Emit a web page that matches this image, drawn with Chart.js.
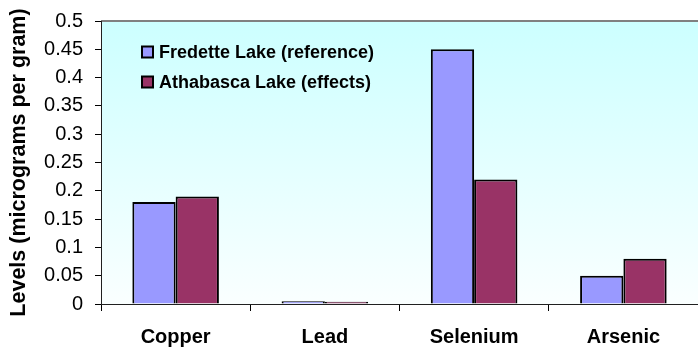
<!DOCTYPE html>
<html>
<head>
<meta charset="utf-8">
<script src="https://cdn.jsdelivr.net/npm/chart.js@4/dist/chart.umd.min.js"></script>
<style>
  html, body { margin: 0; padding: 0; background: #ffffff; }
  #wrap { width: 698px; height: 347px; }
</style>
</head>
<body>
<div id="wrap"><canvas id="c" width="698" height="347"></canvas></div>
<script>
// Metal levels in fish tissue, two lakes
const categories = ['Copper', 'Lead', 'Selenium', 'Arsenic'];
const fredetteLake = [0.18, 0.005, 0.45, 0.05];
const athabascaLake = [0.19, 0.004, 0.22, 0.08];
const seriesNames = ['Fredette Lake (reference)', 'Athabasca Lake (effects)'];
const seriesColors = ['#9999FF', '#993366'];

const FONT = '"Liberation Sans", Arial, sans-serif';

// Plot background: pale cyan fading to white toward the baseline
const plotBackground = {
  id: 'plotBackground',
  beforeDraw(chart) {
    const { ctx, chartArea: a } = chart;
    const g = ctx.createLinearGradient(0, a.top, 0, a.bottom);
    g.addColorStop(0, '#CCFFFF');
    g.addColorStop(1, '#FAFFFF');
    ctx.save();
    ctx.fillStyle = g;
    ctx.fillRect(a.left, a.top, a.right - a.left, a.bottom - a.top);
    ctx.strokeStyle = '#808080';
    ctx.lineWidth = 2;
    ctx.beginPath();
    ctx.moveTo(a.left, a.top);
    ctx.lineTo(a.right, a.top);
    ctx.stroke();
    ctx.restore();
  }
};

// Legend drawn inside the plot area, upper left
const insideLegend = {
  id: 'insideLegend',
  afterDatasetsDraw(chart) {
    const { ctx, chartArea: a } = chart;
    ctx.save();
    ctx.font = 'bold 18px ' + FONT;
    ctx.textBaseline = 'middle';
    chart.data.datasets.forEach((ds, i) => {
      const x = a.left + 41;
      const y = a.top + 31 + i * 30;
      ctx.fillStyle = ds.backgroundColor;
      ctx.fillRect(x, y - 5.5, 11, 11);
      ctx.strokeStyle = '#000000';
      ctx.lineWidth = 2;
      ctx.strokeRect(x, y - 5.5, 11, 11);
      ctx.fillStyle = '#000000';
      ctx.fillText(ds.label, x + 17, y + 1);
    });
    ctx.restore();
  }
};

new Chart(document.getElementById('c'), {
  type: 'bar',
  data: {
    labels: categories,
    datasets: [
      { label: seriesNames[0], data: fredetteLake, backgroundColor: seriesColors[0],
        borderColor: '#000000', borderWidth: 2, borderSkipped: 'bottom' },
      { label: seriesNames[1], data: athabascaLake, backgroundColor: seriesColors[1],
        borderColor: '#000000', borderWidth: 2, borderSkipped: 'bottom' }
    ]
  },
  options: {
    responsive: false,
    animation: false,
    layout: { padding: { top: 21, right: 0, left: 0, bottom: 0 } },
    datasets: { bar: { barPercentage: 1.0, categoryPercentage: 0.58 } },
    plugins: {
      legend: { display: false },
      tooltip: { enabled: false }
    },
    scales: {
      x: {
        grid: { display: true, drawOnChartArea: false, drawTicks: true, tickLength: 7,
                color: '#000000', offset: true },
        border: { display: true, color: '#202020', width: 1 },
        ticks: { color: '#000000', padding: 14,
                 font: { family: FONT, size: 20, weight: 'bold' } },
        afterFit(scale) { scale.height = 43; scale.paddingLeft = 0; scale.paddingRight = 0; }
      },
      y: {
        min: 0,
        max: 0.5,
        grid: { display: true, drawOnChartArea: false, drawTicks: true, tickLength: 6,
                color: '#000000' },
        border: { display: true, color: '#202020', width: 1 },
        ticks: {
          stepSize: 0.05,
          color: '#000000',
          padding: 12,
          font: { family: FONT, size: 20 },
          callback: v => String(Math.round(v * 100) / 100)
        },
        title: {
          display: true,
          text: 'Levels (micrograms per gram)',
          color: '#000000',
          padding: { top: 6, bottom: 0 },
          font: { family: FONT, size: 21.5, weight: 'bold' }
        },
        afterFit(scale) { scale.width = 101; scale.paddingTop = 0; scale.paddingBottom = 0; }
      }
    }
  },
  plugins: [plotBackground, insideLegend]
});
</script>
</body>
</html>
